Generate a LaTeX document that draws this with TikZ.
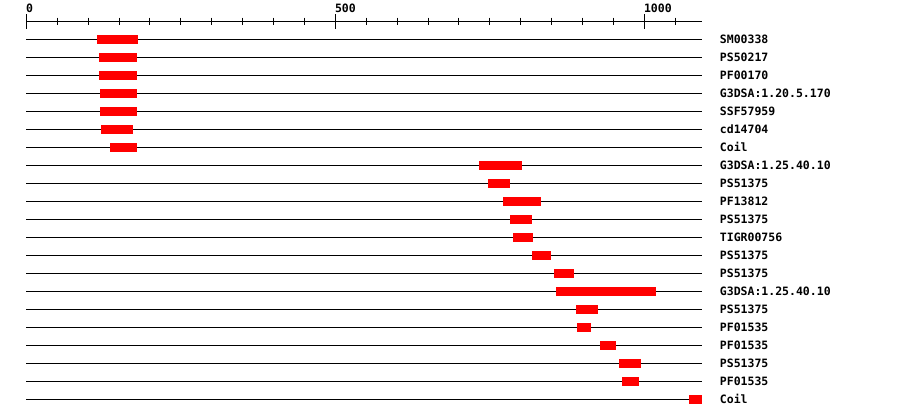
\documentclass[tikz,border=0pt]{standalone}
\usepackage{fontspec}
\setmonofont{DejaVu Sans Mono}
\usetikzlibrary{positioning}
\definecolor{hitred}{HTML}{FF0000}
\tikzset{
  axisline/.style={draw=black,line width=1pt},
  rowline/.style={draw=black,line width=1pt},
  hitbox/.style={fill=hitred,draw=none},
  rowlabel/.style={anchor=base west,inner sep=0pt,font=\ttfamily\bfseries\fontsize{11.5}{12}\selectfont},
  ticklabel/.style={rowlabel}
}
% positions along the sequence: 26.3px + 0.618px per residue
\newcommand{\seqx}[1]{26.3+0.618*#1}

\begin{document}
\begin{tikzpicture}[x=1pt,y=-1pt]
  \useasboundingbox (0,0) rectangle (900,418);
  % scale
  \draw[axisline] (26.3,21.3) -- (702,21.3);
  \foreach \t in {0,50,...,1050}{
    \pgfmathsetmacro\tx{\seqx{\t}}
    \draw[axisline] (\tx,17.7) -- (\tx,24.7);
  }
  \foreach \t in {0,500,1000}{
    \pgfmathsetmacro\tx{\seqx{\t}}
    \draw[axisline] (\tx,14) -- (\tx,29);
    \node[ticklabel] (tick\t) at (\tx-0.5,12.3) {\t};
  }
  % one row per hit
  \foreach \lab/\from/\to [count=\i] in {
      SM00338/115/181, PS50217/118/179, PF00170/118/179,
      G3DSA:1.20.5.170/119/179, SSF57959/119/179, cd14704/121/173,
      Coil/135/179, G3DSA:1.25.40.10/733/802, PS51375/747/783,
      PF13812/771/833, PS51375/783/818, TIGR00756/788/820,
      PS51375/818/849, PS51375/854/886, G3DSA:1.25.40.10/857/1019,
      PS51375/889/925, PF01535/891/914, PF01535/928/954,
      PS51375/959/995, PF01535/964/992, Coil/1072/1093}{
    \pgfmathsetmacro\y{21.3+18*\i}
    \pgfmathsetmacro\xa{\seqx{\from}}
    \pgfmathsetmacro\xb{\seqx{\to}}
    \draw[rowline] (26.3,\y) -- (702,\y);
    \fill[hitbox] (\xa,\y-4.5) rectangle (\xb,\y+4.5);
    \node[rowlabel] (lab\i) at (719.7,\y+4.1) {\lab};
  }
\end{tikzpicture}
\end{document}
